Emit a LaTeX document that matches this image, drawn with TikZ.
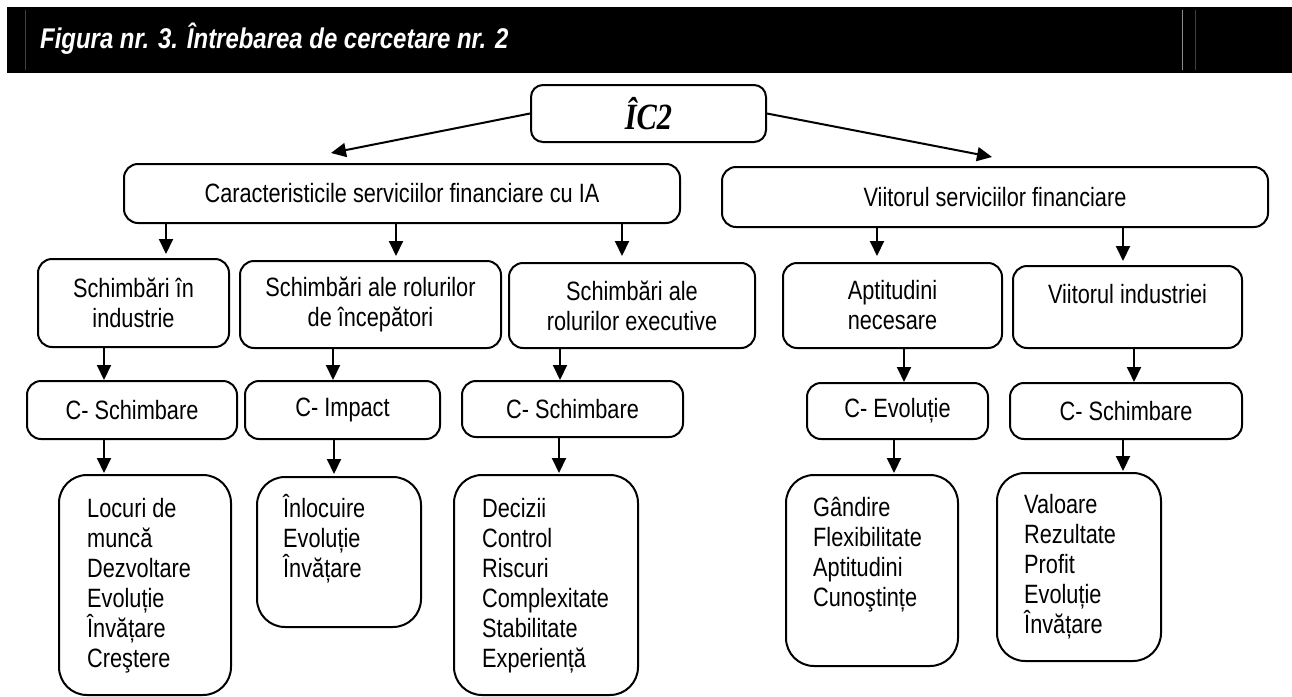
\documentclass[tikz,border=0pt]{standalone}
\usepackage{fontspec}
\setmainfont{Liberation Sans}[FakeStretch=0.82]
\newfontfamily\headfont{Liberation Sans}[FakeStretch=0.84]
\newfontfamily\icfont{Liberation Serif}[FakeStretch=0.82]
\usetikzlibrary{arrows.meta}
\newcommand\figbody{\fontsize{26.5}{30}\selectfont}

\tikzset{
  box/.style={draw, line width=2pt, rounded corners=14pt, inner sep=0pt,
              align=center, font=\figbody},
  listbox/.style={draw, line width=2pt, rounded corners=28pt, inner sep=0pt},
  listtxt/.style={anchor=base west, inner sep=0pt, font=\figbody},
  arr/.style={line width=2pt, -{Triangle[length=15pt,width=14pt]}},
  rule/.style={line width=1pt}
}

\begin{document}
\begin{tikzpicture}[x=1pt,y=-1pt]
\useasboundingbox (0,0) rectangle (1292,696);

% heading band
\fill[black] (7,7) rectangle (1292,73);
\draw[rule, black!75] (25,10) -- (25,70);
\draw[rule, black!45] (1182,10) -- (1182,70);
\draw[rule, black!75] (1195,10) -- (1195,70);
\node[anchor=base west, inner sep=0pt, text=white,
      font=\headfont\fontsize{28.5}{30}\selectfont\bfseries\itshape]
  (title) at (40,48) {Figura nr. 3. Întrebarea de cercetare nr. 2};

% root
\node[box, rounded corners=12pt, minimum width=235pt, minimum height=57pt,
      font=\icfont\fontsize{37}{40}\selectfont\bfseries\itshape]
  (ic) at (648.5,113.5) {ÎC2};

% first level
\node[box, minimum width=556pt, minimum height=59pt] (r1l) at (402,193.5)
  {Caracteristicile serviciilor financiare cu IA};
\node[box, minimum width=546pt, minimum height=60pt] (r1r) at (995,197)
  {Viitorul serviciilor financiare};

% second level
\node[box, minimum width=191pt, minimum height=88pt] (a2) at (133.5,303)
  {Schimbări în\\industrie};
\node[box, minimum width=261pt, minimum height=87pt] (b2) at (370.5,304.5)
  {Schimbări ale rolurilor\\de începători};
\node[box, minimum width=246pt, minimum height=85pt] (c2) at (632,305.5)
  {Schimbări ale\\rolurilor executive};
\node[box, minimum width=219pt, minimum height=85pt] (d2) at (892.5,305.5)
  {Aptitudini\\necesare};
\node[box, minimum width=229pt, minimum height=82pt] (e2) at (1127.5,307) {};
\node[anchor=base, inner sep=0pt, font=\figbody] (e2t) at (1127.5,303)
  {Viitorul industriei};

% categories
\node[box, minimum width=210pt, minimum height=58pt] (a3) at (132,410) {C- Schimbare};
\node[box, minimum width=195pt, minimum height=58pt] (b3) at (342.5,410) {C- Impact};
\node[box, minimum width=221pt, minimum height=56pt] (c3) at (572.5,409) {C- Schimbare};
\node[box, minimum width=181pt, minimum height=56pt] (d3) at (897.5,411) {C- Evoluție};
\node[box, minimum width=232pt, minimum height=56pt] (e3) at (1126,411) {C- Schimbare};

% code lists
\node[listbox, minimum width=172pt, minimum height=220pt] (a4) at (145,585) {};
\node[listbox, minimum width=164pt, minimum height=150pt] (b4) at (339,552) {};
\node[listbox, minimum width=184pt, minimum height=220pt] (c4) at (546,585) {};
\node[listbox, minimum width=172pt, minimum height=191pt] (d4) at (872,570.5) {};
\node[listbox, minimum width=164pt, minimum height=188pt] (e4) at (1079,567) {};

\node[listtxt] (a4t) at (87,517)
  {\parbox[t]{140pt}{Locuri de\\muncă\\Dezvoltare\\Evoluție\\Învățare\\Creştere}};
\node[listtxt] (b4t) at (283,517)
  {\parbox[t]{130pt}{Înlocuire\\Evoluție\\Învățare}};
\node[listtxt] (c4t) at (482,517)
  {\parbox[t]{140pt}{Decizii\\Control\\Riscuri\\Complexitate\\Stabilitate\\Experiență}};
\node[listtxt] (d4t) at (813,516)
  {\parbox[t]{140pt}{Gândire\\Flexibilitate\\Aptitudini\\Cunoştințe}};
\node[listtxt] (e4t) at (1024,513)
  {\parbox[t]{130pt}{Valoare\\Rezultate\\Profit\\Evoluție\\Învățare}};

% arrow ends
\coordinate (p1) at (331,153);
\coordinate (p2) at (992,157);
\coordinate (qa) at (166,254);
\coordinate (qb) at (396,256);
\coordinate (qc) at (622,256);
\coordinate (qd) at (877,256);
\coordinate (qe) at (1123,261);
\coordinate (sa) at (104,380);
\coordinate (sb) at (333,380);
\coordinate (sc) at (560,380);
\coordinate (sd) at (904,382);
\coordinate (se) at (1134,382);
\coordinate (ua) at (104,473);
\coordinate (ub) at (334,474);
\coordinate (uc) at (559,473);
\coordinate (ud) at (894,473);
\coordinate (ue) at (1123,471);

% connectors
\draw[arr] (ic.west) -- (p1);
\draw[arr] (ic.east) -- (p2);
\foreach \t in {qa,qb,qc} \draw[arr] (r1l.south -| \t) -- (\t);
\foreach \t in {qd,qe} \draw[arr] (r1r.south -| \t) -- (\t);
\draw[arr] (a2.south -| sa) -- (sa);
\draw[arr] (b2.south -| sb) -- (sb);
\draw[arr] (c2.south -| sc) -- (sc);
\draw[arr] (d2.south -| sd) -- (sd);
\draw[arr] (e2.south -| se) -- (se);
\draw[arr] (a3.south -| ua) -- (ua);
\draw[arr] (b3.south -| ub) -- (ub);
\draw[arr] (c3.south -| uc) -- (uc);
\draw[arr] (d3.south -| ud) -- (ud);
\draw[arr] (e3.south -| ue) -- (ue);
\end{tikzpicture}
\end{document}
